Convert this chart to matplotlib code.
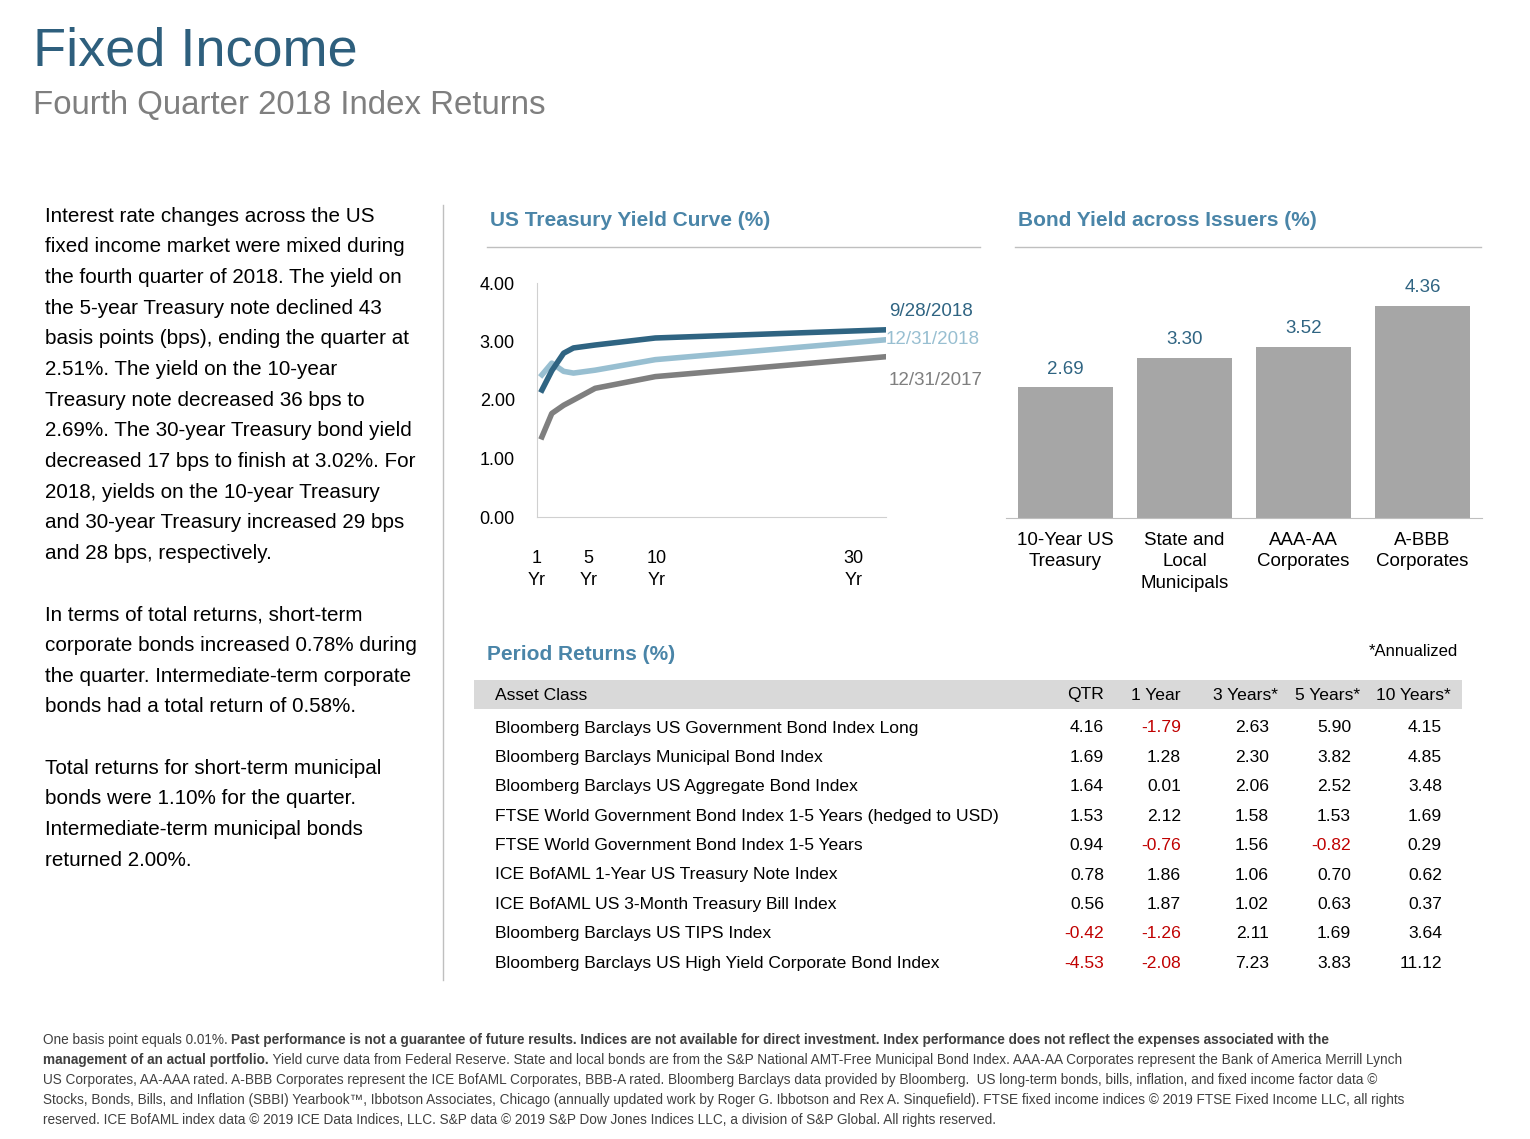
import matplotlib
matplotlib.use("Agg")
import matplotlib.pyplot as plt
from matplotlib.lines import Line2D
from matplotlib.patches import Rectangle

plt.rcParams["font.family"] = "Liberation Sans"

# --- data ---
tenor_pos = [0.1, 1.1, 2.3, 3.3, 5.5, 11.6, 35.0]
yc_0928 = [2.17, 2.50, 2.80, 2.89, 2.94, 3.06, 3.20]
yc_1231 = [2.43, 2.63, 2.49, 2.46, 2.51, 2.69, 3.03]
yc_2017 = [1.37, 1.77, 1.91, 2.00, 2.20, 2.40, 2.74]
tenor_ticks = [-0.4, 4.8, 11.7, 31.7]
tenor_labels = ["1\nYr", "5\nYr", "10\nYr", "30\nYr"]

issuers = ["10-Year US\nTreasury", "State and\nLocal\nMunicipals", "AAA-AA\nCorporates", "A-BBB\nCorporates"]
issuer_yield = [2.69, 3.30, 3.52, 4.36]

assets = [
    "Bloomberg Barclays US Government Bond Index Long",
    "Bloomberg Barclays Municipal Bond Index",
    "Bloomberg Barclays US Aggregate Bond Index",
    "FTSE World Government Bond Index 1-5 Years (hedged to USD)",
    "FTSE World Government Bond Index 1-5 Years",
    "ICE BofAML 1-Year US Treasury Note Index",
    "ICE BofAML US 3-Month Treasury Bill Index",
    "Bloomberg Barclays US TIPS Index",
    "Bloomberg Barclays US High Yield Corporate Bond Index",
]
ret_qtr = [4.16, 1.69, 1.64, 1.53, 0.94, 0.78, 0.56, -0.42, -4.53]
ret_1y = [-1.79, 1.28, 0.01, 2.12, -0.76, 1.86, 1.87, -1.26, -2.08]
ret_3y = [2.63, 2.30, 2.06, 1.58, 1.56, 1.06, 1.02, 2.11, 7.23]
ret_5y = [5.90, 3.82, 2.52, 1.53, -0.82, 0.70, 0.63, 1.69, 3.83]
ret_10y = [4.15, 4.85, 3.48, 1.69, 0.29, 0.62, 0.37, 3.64, 11.12]

W, H = 1530, 1139
fig = plt.figure(figsize=(W / 100, H / 100), dpi=100)

def fx(px):
    return px / W

def fy(py):
    return 1 - py / H

def txt(x, y, s, **kw):
    kw.setdefault("va", "center")
    return fig.text(fx(x), fy(y), s, **kw)

DARK = "#2F6482"
HEAD = "#4A85A8"
LIGHT = "#98BFD1"
GREY = "#7F7F7F"
RED = "#C00000"

# --- titles ---
txt(33, 52, "Fixed Income", fontsize=39, color="#2E5F7D")
txt(33, 105, "Fourth Quarter 2018 Index Returns", fontsize=23.8, color=GREY)

# --- left commentary ---
para = [
    "Interest rate changes across the US", "fixed income market were mixed during",
    "the fourth quarter of 2018. The yield on", "the 5-year Treasury note declined 43",
    "basis points (bps), ending the quarter at", "2.51%. The yield on the 10-year",
    "Treasury note decreased 36 bps to", "2.69%. The 30-year Treasury bond yield",
    "decreased 17 bps to finish at 3.02%. For", "2018, yields on the 10-year Treasury",
    "and 30-year Treasury increased 29 bps", "and 28 bps, respectively.", "",
    "In terms of total returns, short-term", "corporate bonds increased 0.78% during",
    "the quarter. Intermediate-term corporate", "bonds had a total return of 0.58%.", "",
    "Total returns for short-term municipal", "bonds were 1.10% for the quarter.",
    "Intermediate-term municipal bonds", "returned 2.00%.",
]
for i, line in enumerate(para):
    txt(45, 216 + i * 30.67, line, fontsize=14.9, color="black")

fig.add_artist(Line2D([fx(443), fx(443)], [fy(205), fy(980)], color="#BFBFBF", lw=1))

# --- section headers ---
txt(490, 221, "US Treasury Yield Curve (%)", fontsize=15, color=HEAD, weight="bold")
txt(1018, 221, "Bond Yield across Issuers (%)", fontsize=15, color=HEAD, weight="bold")
txt(487, 654, "Period Returns (%)", fontsize=15, color=HEAD, weight="bold")
txt(1458, 651, "*Annualized", fontsize=12, ha="right")
for a, b in [(487, 980), (1015, 1481)]:
    fig.add_artist(Line2D([fx(a), fx(b)], [fy(247), fy(247)], color="#BFBFBF", lw=1))

# --- yield curve ---
ax = fig.add_axes([fx(537), fy(517), fx(886 - 537), (517 - 283) / H])
ax.plot(tenor_pos, yc_2017, color=GREY, lw=4)
ax.plot(tenor_pos, yc_1231, color=LIGHT, lw=4)
ax.plot(tenor_pos, yc_0928, color=DARK, lw=4)
ax.set_xlim(0, 35)
ax.set_ylim(0, 4)
ax.set_yticks([0, 1, 2, 3, 4])
ax.set_yticklabels([f"{v:.2f}" for v in [0, 1, 2, 3, 4]], fontsize=13)
ax.set_xticks(tenor_ticks)
ax.set_xticklabels(tenor_labels, fontsize=13, linespacing=1.35)
ax.tick_params(axis="y", length=0, pad=16)
ax.tick_params(axis="x", length=0, pad=24)
for s in ["top", "right"]:
    ax.spines[s].set_visible(False)
for s in ["left", "bottom"]:
    ax.spines[s].set_color("#D0D0D0")
ax.text(35.3, yc_0928[-1] + 0.32, "9/28/2018", color=DARK, fontsize=13.5, va="center")
ax.text(35.0, yc_1231[-1], "12/31/2018", color=LIGHT, fontsize=13.5, va="center")
ax.text(35.3, yc_2017[-1] - 0.4, "12/31/2017", color=GREY, fontsize=13.5, va="center")

# --- issuer bars ---
bx = fig.add_axes([fx(1006), fy(518), fx(1482 - 1006), (518 - 268) / H])
xs = range(len(issuers))
bx.bar(xs, issuer_yield, width=0.8, color="#A6A6A6")
bx.set_xlim(-0.5, len(issuers) - 0.5)
bx.set_ylim(0, 250 / 48.6)
for x, v in zip(xs, issuer_yield):
    bx.text(x, v + 0.2, f"{v:.2f}", ha="center", va="bottom", fontsize=13.5, color=DARK)
bx.set_xticks(list(xs))
bx.set_xticklabels(issuers, fontsize=13.5, va="top", linespacing=1.35)
bx.tick_params(length=0, pad=10)
bx.set_yticks([])
for s in ["top", "right", "left"]:
    bx.spines[s].set_visible(False)
bx.spines["bottom"].set_color("#BFBFBF")

# --- returns table ---
fig.add_artist(Rectangle((fx(474), fy(709)), fx(1462 - 474), 29 / H, color="#D9D9D9", lw=0))
col_x = [1104, 1181, 1269, 1351, 1442]
head_x = [1104, 1181, 1278, 1360, 1451]
txt(495, 695, "Asset Class", fontsize=12.6)
for hx, h in zip(head_x, ["QTR", "1 Year", "3 Years*", "5 Years*", "10 Years*"]):
    txt(hx, 695, h, fontsize=12.6, ha="right")
cols = [ret_qtr, ret_1y, ret_3y, ret_5y, ret_10y]
for i, name in enumerate(assets):
    y = 728 + i * 29.4
    txt(495, y, name, fontsize=12.6)
    for cx, col in zip(col_x, cols):
        v = col[i]
        txt(cx, y, f"{v:.2f}", fontsize=12.6, ha="right", color=RED if v < 0 else "black")

# --- footnote ---
fn_font = dict(fontsize=9.8, color="#404040")
fig.canvas.draw()
r = fig.canvas.get_renderer()

def runs(x, y, parts):
    for s, bold in parts:
        t = txt(x, y, s, weight="bold" if bold else "normal", **fn_font)
        x += t.get_window_extent(r).width

runs(43, 1040, [("One basis point equals 0.01%. ", False),
                ("Past performance is not a guarantee of future results. Indices are not available for direct investment. Index performance does not reflect the expenses associated with the", True)])
runs(43, 1060, [("management of an actual portfolio.", True),
                (" Yield curve data from Federal Reserve. State and local bonds are from the S&P National AMT-Free Municipal Bond Index. AAA-AA Corporates represent the Bank of America Merrill Lynch", False)])
txt(43, 1080, "US Corporates, AA-AAA rated. A-BBB Corporates represent the ICE BofAML Corporates, BBB-A rated. Bloomberg Barclays data provided by Bloomberg.  US long-term bonds, bills, inflation, and fixed income factor data \u00a9", **fn_font)
txt(43, 1100, "Stocks, Bonds, Bills, and Inflation (SBBI) Yearbook\u2122, Ibbotson Associates, Chicago (annually updated work by Roger G. Ibbotson and Rex A. Sinquefield). FTSE fixed income indices \u00a9 2019 FTSE Fixed Income LLC, all rights", **fn_font)
txt(43, 1120, "reserved. ICE BofAML index data \u00a9 2019 ICE Data Indices, LLC. S&P data \u00a9 2019 S&P Dow Jones Indices LLC, a division of S&P Global. All rights reserved.", **fn_font)

fig.savefig("out.png", dpi=100)
